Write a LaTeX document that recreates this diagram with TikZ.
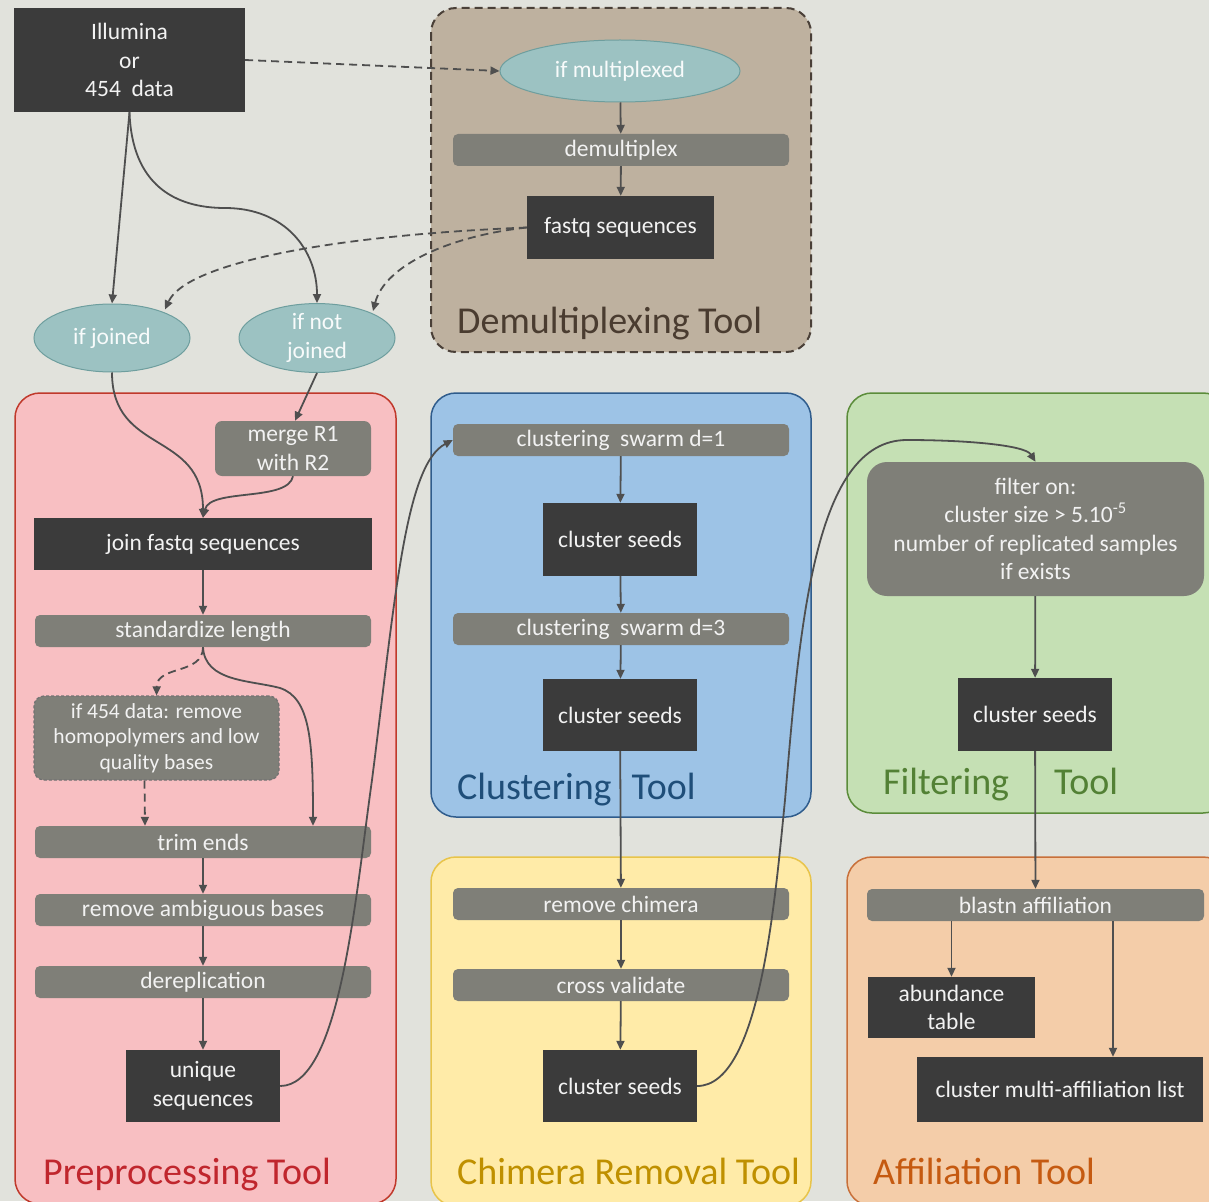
\documentclass[tikz,border=0pt]{standalone}
\usepackage{fontspec}
\setmainfont{Carlito}
\usetikzlibrary{shapes.geometric,arrows.meta,calc}
\definecolor{bg}{HTML}{E1E2DC}
\definecolor{darkbox}{HTML}{3B3B3B}
\definecolor{graybar}{HTML}{7F7F78}
\definecolor{ellfill}{HTML}{9CC2C2}
\definecolor{elldraw}{HTML}{6E9E9E}
\definecolor{linec}{HTML}{4F4F4F}
\definecolor{demuxfill}{HTML}{BEB19F}
\definecolor{demuxdraw}{HTML}{4A4038}
\definecolor{demuxtext}{HTML}{4A3C30}
\definecolor{prefill}{HTML}{F8BFC2}
\definecolor{predraw}{HTML}{C0392B}
\definecolor{pretext}{HTML}{C0262D}
\definecolor{clufill}{HTML}{9DC3E6}
\definecolor{cludraw}{HTML}{2F5C8C}
\definecolor{clutext}{HTML}{1F4E79}
\definecolor{filfill}{HTML}{C5E0B4}
\definecolor{fildraw}{HTML}{5B8C3A}
\definecolor{filtext}{HTML}{538135}
\definecolor{chifill}{HTML}{FFEBA8}
\definecolor{chidraw}{HTML}{E8C44A}
\definecolor{chitext}{HTML}{BF9000}
\definecolor{afffill}{HTML}{F4CDA9}
\definecolor{affdraw}{HTML}{C8703A}
\definecolor{afftext}{HTML}{C55A11}
\begin{document}
\begin{tikzpicture}[x=1pt,y=-1pt,
  cont/.style={rounded corners=25pt, line width=1.5pt},
  lbl/.style={anchor=base west, inner sep=0pt, font=\fontsize{38}{42}\selectfont},
  darknode/.style={fill=darkbox, text=white!95!black, inner sep=0pt, align=center,
     font=\fontsize{23.5}{28.5}\selectfont},
  barnode/.style={fill=graybar, text=white!95!black, inner sep=0pt, align=center,
     rounded corners=5pt, minimum width=336pt, minimum height=32pt,
     font=\fontsize{23.5}{28.5}\selectfont},
  ellnode/.style={ellipse, fill=ellfill, draw=elldraw, line width=1pt, inner sep=0pt,
     text=white!93!ellfill, align=center, font=\fontsize{23.5}{28.5}\selectfont},
  arr/.style={draw=linec, line width=1.8pt, -{Triangle[length=9pt,width=8pt]}},
  dsh/.style={dash pattern=on 8pt off 5pt}
]
\fill[bg] (0,0) rectangle (1209,1201);
\useasboundingbox (0,0) rectangle (1209,1201);
\clip (0,0) rectangle (1209,1201);

% containers
\draw[cont, fill=demuxfill, draw=demuxdraw, dsh, line width=2pt] (431,8) rectangle (811,352);
\draw[cont, fill=prefill, draw=predraw] (15,393) rectangle (396,1204);
\draw[cont, fill=clufill, draw=cludraw] (431,393) rectangle (811,817);
\draw[cont, fill=filfill, draw=fildraw] (847,393) rectangle (1228,813);
\draw[cont, fill=chifill, draw=chidraw] (431,857) rectangle (811,1206);
\draw[cont, fill=afffill, draw=affdraw] (847,857) rectangle (1228,1206);

% container labels
\node[lbl, text=demuxtext] (ldemux) at (457,333) {Demultiplexing Tool};
\node[lbl, text=pretext] (lpre) at (43,1184) {Preprocessing Tool};
\node[lbl, text=clutext] (lclu) at (457,799) {Clustering\hspace{20pt}Tool};
\node[lbl, text=filtext] (lfil) at (883,794) {Filtering\hspace{45pt}Tool};
\node[lbl, text=chitext] (lchi) at (457,1184) {Chimera Removal Tool};
\node[lbl, text=afftext] (laff) at (873,1184) {Affiliation Tool};

% nodes
\node[darknode, minimum width=231pt, minimum height=104pt] (illum) at (129.5,60) {Illumina\\or\\454\ \ data};
\node[ellnode, minimum width=240pt, minimum height=62pt] (mplex) at (620,71) {if multiplexed};
\node[barnode] (demux) at (621,150) {demultiplex};
\node[darknode, minimum width=187pt, minimum height=63pt] (fastq) at (620.5,227.5) {fastq sequences};
\node[ellnode, minimum width=156pt, minimum height=68pt] (ifj) at (112,338) {if joined};
\node[ellnode, minimum width=156pt, minimum height=68pt] (ifnj) at (317,338) {if not\\joined};

\node[barnode, minimum width=156pt, minimum height=55pt, rounded corners=7pt] (merge) at (293,448.5) {merge R1\\with R2};
\node[darknode, minimum width=338pt, minimum height=52pt] (join) at (203,544) {join fastq sequences};
\node[barnode] (std) at (203,631) {standardize length};
\node[barnode, minimum width=245pt, minimum height=84pt, rounded corners=10pt, draw=linec!80, line width=1.2pt, dash pattern=on 3pt off 2pt,
   font=\fontsize{21.5}{25.5}\selectfont] (if454) at (156.5,738) {if 454 data: remove\\homopolymers and low\\quality bases};
\node[barnode] (trim) at (203,842) {trim ends};
\node[barnode] (ambig) at (203,910) {remove ambiguous bases};
\node[barnode] (derep) at (203,982) {dereplication};
\node[darknode, minimum width=154pt, minimum height=72pt] (uniq) at (203,1086) {unique\\sequences};

\node[barnode] (cs1) at (621,440) {clustering\ \ swarm d=1};
\node[darknode, minimum width=154pt, minimum height=73pt] (seeds1) at (620,539.5) {cluster seeds};
\node[barnode] (cs3) at (621,629) {clustering\ \ swarm d=3};
\node[darknode, minimum width=154pt, minimum height=72pt] (seeds2) at (620,715) {cluster seeds};

\node[barnode] (chim) at (621,904) {remove chimera};
\node[barnode] (cross) at (621,985) {cross validate};
\node[darknode, minimum width=154pt, minimum height=72pt] (seeds3) at (620,1086) {cluster seeds};

\node[barnode, minimum width=337pt, minimum height=134pt, rounded corners=20pt] (filt) at (1035.5,529)
  {filter on:\\cluster size > 5.10\textsuperscript{-5}\\number of replicated samples\\if exists};
\node[darknode, minimum width=154pt, minimum height=73pt] (seeds4) at (1035,714.5) {cluster seeds};

\node[barnode, minimum width=337pt] (blast) at (1035.5,905) {blastn affiliation};
\node[darknode, minimum width=167pt, minimum height=61pt] (abund) at (951.5,1007.5) {abundance\\table};
\node[darknode, minimum width=286pt, minimum height=65pt] (multi) at (1060,1089.5) {cluster multi-affiliation list};

% connectors
\coordinate (ifj-in) at ($(ifj.north)+(53,6)$);
\coordinate (ifnj-in) at ($(ifnj.north)+(56,8)$);
\draw[arr] (illum.south) -- (ifj.north);
\draw[arr] (illum.south) .. controls (132,185) and (175,208) .. (225,208) .. controls (285,208) and (317,250) .. (ifnj.north);
\draw[arr, dsh] (illum.east) -- (mplex.west);
\draw[arr] (mplex) -- (demux);
\draw[arr] (demux) -- (fastq);
\draw[arr, dsh] (fastq.west) .. controls (320,236) and (185,265) .. (ifj-in);
\draw[arr, dsh] (fastq.west) .. controls (450,236) and (385,265) .. (ifnj-in);

\draw[arr] (ifj.south) .. controls (112,455) and (203,430) .. (join.north);
\draw[arr] (ifnj.south) -- ($(merge.north)+(2,0)$);
\draw[arr] (merge.south) .. controls (288,502) and (210,488) .. (join.north);
\draw[arr] (join) -- (std);
\draw[arr, dsh] (std.south) .. controls (203,675) and (157,665) .. (if454.north);
\draw[arr] (std.south) .. controls (205,682) and (250,680) .. (280,688) .. controls (310,698) and (313,740) .. ($(trim.north)+(110,0)$);
\draw[arr, dsh] ($(if454.south)+(-12,0)$) -- ($(trim.north)+(-58,0)$);
\draw[arr] (trim) -- (ambig);
\draw[arr] (ambig) -- (derep);
\draw[arr] (derep) -- (uniq);
\draw[arr] (uniq.east) .. controls (340,1086) and (355,900) .. (372,780) .. controls (395,600) and (405,465) .. (cs1.west);

\draw[arr] (cs1) -- (seeds1);
\draw[arr] (seeds1) -- (cs3);
\draw[arr] (cs3) -- (seeds2);
\draw[arr] (seeds2) -- (chim);
\draw[arr] (chim) -- (cross);
\draw[arr] (cross) -- (seeds3);
\draw[arr] (seeds3.east) .. controls (760,1086) and (775,900) .. (785,800) .. controls (800,620) and (815,440) .. (907,440) .. controls (965,440) and (1025,445) .. (filt.north);

\draw[arr] (filt) -- (seeds4);
\draw[arr] (seeds4) -- (blast);
\draw[arr] (abund.north |- blast.south) -- (abund.north);
\coordinate (mtop) at ($(multi.north)+(53,0)$);
\draw[arr] (mtop |- blast.south) -- (mtop);
\end{tikzpicture}
\end{document}
